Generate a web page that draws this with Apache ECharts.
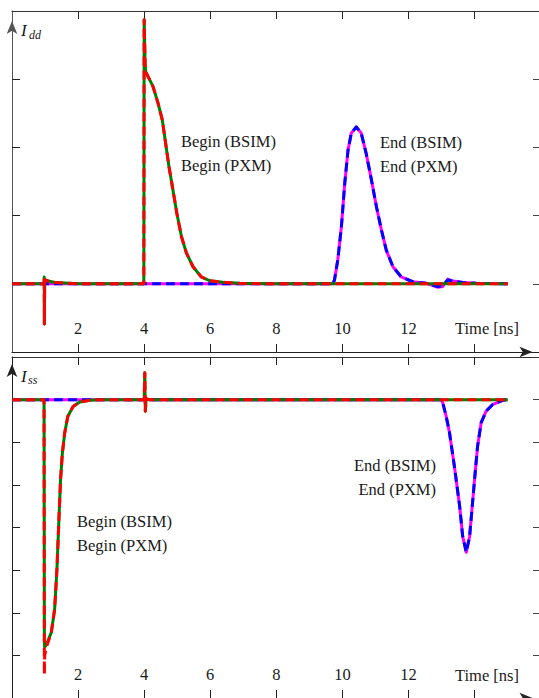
<!DOCTYPE html>
<html><head><meta charset="utf-8">
<script src="https://cdn.jsdelivr.net/npm/echarts@6/dist/echarts.min.js"></script>
<style>html,body{margin:0;padding:0;background:#fff}#c{width:539px;height:698px}</style>
</head><body><div id="c"></div>
<script>
// ---- tick labels / axis texts ----
const xTickLabels = [2, 4, 6, 8, 10, 12];
const xTickMarks = [2, 4, 6, 8, 10, 12, 14];
const timeLabel = 'Time [ns]';
const iddTicks = [0, 1, 2, 3];
const issTicks = [-6, -5, -4, -3, -2, -1, 0];

// ---- Idd panel: Begin transition ----
const iddBeginT    = [0, 0.97, 0.975, 0.98, 0.99, 1.1, 1.3, 1.6, 2.0, 3.99, 4.0, 4.03, 4.045, 4.27, 4.42, 4.55, 4.65, 4.75, 4.87, 4.99, 5.13, 5.28, 5.48, 5.73, 5.98, 6.38, 6.89, 7.8, 15.0];
const iddBeginBSIM = [0, 0, 0.1, -0.59, 0.06, 0.04, 0.02, 0.01, 0, 0, 3.87, 3.2, 3.11, 2.89, 2.65, 2.40, 2.06, 1.72, 1.38, 1.03, 0.69, 0.45, 0.25, 0.10, 0.045, 0.022, 0.007, 0, 0];
const iddBeginPXM  = [0, 0, 0.1, -0.59, 0.06, 0.04, 0.02, 0.01, 0, 0, 3.87, 3.2, 3.11, 2.89, 2.65, 2.40, 2.06, 1.72, 1.38, 1.03, 0.69, 0.45, 0.25, 0.10, 0.045, 0.022, 0.007, 0, 0];

// ---- Idd panel: End transition ----
const iddEndT    = [0, 9.71, 9.76, 9.86, 9.97, 10.07, 10.17, 10.27, 10.42, 10.57, 10.72, 10.88, 11.03, 11.18, 11.33, 11.53, 11.78, 12.13, 12.54, 12.89, 13.04, 13.19, 13.34, 13.65, 14.05, 15.0];
const iddEndBSIM = [0, 0, 0.056, 0.35, 0.84, 1.47, 1.96, 2.21, 2.30, 2.21, 1.91, 1.52, 1.13, 0.79, 0.49, 0.25, 0.10, 0.03, 0.007, -0.05, -0.04, 0.07, 0.04, 0.02, 0.007, 0];
const iddEndPXM  = [0, 0, 0.056, 0.35, 0.84, 1.47, 1.96, 2.21, 2.30, 2.21, 1.91, 1.52, 1.13, 0.79, 0.49, 0.25, 0.10, 0.03, 0.007, -0.04, -0.03, 0.056, 0.04, 0.02, 0.007, 0];

// ---- Iss panel: Begin transition ----
const issBeginT    = [0, 0.97, 0.98, 0.99, 1.04, 1.19, 1.29, 1.36, 1.42, 1.47, 1.525, 1.595, 1.69, 1.85, 2.05, 2.35, 2.75, 4.0, 4.02, 4.035, 4.06, 4.15, 15.0];
const issBeginBSIM = [0, 0, -5.7, -5.81, -5.75, -5.46, -4.92, -3.98, -2.81, -1.87, -1.25, -0.78, -0.39, -0.16, -0.054, -0.016, 0, 0, 0.63, -0.27, 0.02, 0, 0];
const issBeginPXM  = [0, 0, -6.45, -6.0, -5.81, -5.46, -4.92, -3.98, -2.81, -1.87, -1.25, -0.78, -0.39, -0.16, -0.054, -0.016, 0, 0, 0.63, -0.27, 0.02, 0, 0];

// ---- Iss panel: End transition ----
const issEndT    = [0, 12.99, 13.04, 13.14, 13.24, 13.39, 13.55, 13.64, 13.75, 13.85, 14.0, 14.09, 14.2, 14.35, 14.54, 14.85, 15.0];
const issEndBSIM = [0, 0, -0.08, -0.39, -0.77, -1.57, -2.51, -3.21, -3.58, -3.21, -1.87, -1.10, -0.54, -0.27, -0.12, -0.016, 0];
const issEndPXM  = [0, 0, -0.08, -0.39, -0.77, -1.57, -2.51, -3.21, -3.58, -3.21, -1.87, -1.10, -0.54, -0.27, -0.12, -0.016, 0];

// ---- annotation texts ----
const beginBSIMText = 'Begin (BSIM)';
const beginPXMText = 'Begin (PXM)';
const endBSIMText = 'End (BSIM)';
const endPXMText = 'End (PXM)';

const pairs = (t, v) => t.map((x, i) => [x, v[i]]);
const FONT = "'Liberation Serif', 'DejaVu Serif', serif";
const FS = 16.5;
const TXT = '#1a1a1a';
const X_MAX = 15.95;

function xAxisBottom(g) {
  return {
    type: 'value', gridIndex: g, position: 'bottom', min: 0, max: X_MAX,
    axisLine: { show: true, onZero: false, symbol: ['none', 'arrow'], symbolSize: [8, 13], symbolOffset: [0, -6.5],
      lineStyle: { color: '#222', width: 1 } },
    axisTick: { show: true, inside: true, length: 8, customValues: xTickMarks, lineStyle: { color: '#222', width: 1 } },
    axisLabel: { show: true, inside: true, margin: 15, customValues: xTickLabels,
      fontFamily: FONT, fontSize: FS, color: TXT },
    splitLine: { show: false }
  };
}
function xAxisTop(g) {
  return {
    type: 'value', gridIndex: g, position: 'top', min: 0, max: X_MAX,
    axisLine: { show: true, onZero: false, lineStyle: { color: '#333', width: 1 } },
    axisTick: { show: true, inside: true, length: 8, customValues: xTickMarks, lineStyle: { color: '#222', width: 1 } },
    axisLabel: { show: false },
    splitLine: { show: false }
  };
}
function yAxisLeft(g, min, max, ticks, lineColor, off) {
  return {
    type: 'value', gridIndex: g, position: 'left', min: min, max: max, interval: 1,
    axisLine: { show: true, onZero: false, symbol: ['none', 'arrow'], symbolSize: [8, 13], symbolOffset: [0, off],
      lineStyle: { color: lineColor, width: 1 } },
    axisTick: { show: true, inside: true, length: 8, customValues: ticks, lineStyle: { color: '#222', width: 1 } },
    axisLabel: { show: false },
    splitLine: { show: false }
  };
}
function yAxisRight(g, min, max, ticks) {
  return {
    type: 'value', gridIndex: g, position: 'right', min: min, max: max, interval: 1,
    axisLine: { show: false, onZero: false },
    axisTick: { show: true, inside: true, length: 6, customValues: ticks, lineStyle: { color: '#444', width: 1 } },
    axisLabel: { show: false },
    splitLine: { show: false }
  };
}
function line(name, xi, yi, data, color, dashed, z) {
  return {
    name: name, type: 'line', xAxisIndex: xi, yAxisIndex: yi, data: data,
    showSymbol: false, symbol: 'none', z: z, animation: false,
    lineStyle: { color: color, width: 3, type: dashed ? [9, 5] : 'solid', cap: 'butt', join: 'round' }
  };
}
function txt(x, y, s, align, size, style) {
  return { type: 'text', x: x, y: y, z: 100, style: { text: s, fontFamily: FONT, fontSize: size || FS,
    fontStyle: style || 'normal', fill: TXT, align: align || 'left', verticalAlign: 'middle' } };
}

const chart = echarts.init(document.getElementById('c'), null, { renderer: 'svg' });
chart.setOption({
  animation: false,
  backgroundColor: '#fff',
  grid: [
    { left: 12, top: 11, width: 527, height: 341 },
    { left: 12, top: 357, width: 527, height: 341.5 }
  ],
  xAxis: [xAxisBottom(0), xAxisTop(0), xAxisBottom(1), xAxisTop(1)],
  yAxis: [
    yAxisLeft(0, -1, 4, iddTicks, '#555', -10),
    yAxisRight(0, -1, 4, iddTicks),
    yAxisLeft(1, -7, 1, issTicks, '#222', -7),
    yAxisRight(1, -7, 1, issTicks)
  ],
  series: [
    line('Idd End (BSIM)', 0, 0, pairs(iddEndT, iddEndBSIM), '#ff00ff', false, 2),
    line('Idd End (PXM)', 0, 0, pairs(iddEndT, iddEndPXM), '#0000ff', true, 3),
    line('Idd Begin (BSIM)', 0, 0, pairs(iddBeginT, iddBeginBSIM), '#008000', false, 4),
    line('Idd Begin (PXM)', 0, 0, pairs(iddBeginT, iddBeginPXM), '#ff0000', true, 5),
    line('Iss End (BSIM)', 2, 2, pairs(issEndT, issEndBSIM), '#ff00ff', false, 2),
    line('Iss End (PXM)', 2, 2, pairs(issEndT, issEndPXM), '#0000ff', true, 3),
    line('Iss Begin (BSIM)', 2, 2, pairs(issBeginT, issBeginBSIM), '#008000', false, 4),
    line('Iss Begin (PXM)', 2, 2, pairs(issBeginT, issBeginPXM), '#ff0000', true, 5)
  ],
  graphic: [
    txt(21, 30, 'I', 'left', 17, 'italic'),
    txt(29, 34.5, 'dd', 'left', 12, 'italic'),
    txt(21, 376, 'I', 'left', 17, 'italic'),
    txt(28, 380, 'ss', 'left', 12, 'italic'),
    txt(181, 141, beginBSIMText), txt(181, 165, beginPXMText),
    txt(380, 142, endBSIMText), txt(380, 166, endPXMText),
    txt(436, 465, endBSIMText, 'right'), txt(436, 489, endPXMText, 'right'),
    txt(77, 521, beginBSIMText), txt(77, 545, beginPXMText),
    txt(455, 328, timeLabel), txt(455, 675, timeLabel)
  ]
});
</script></body></html>
